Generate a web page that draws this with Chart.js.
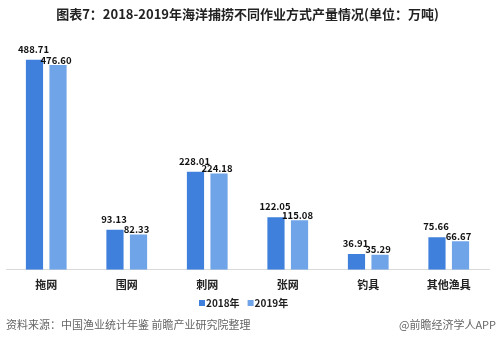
<!DOCTYPE html>
<html>
<head>
<meta charset="utf-8">
<script src="https://cdn.jsdelivr.net/npm/chart.js@4.4.0/dist/chart.umd.min.js"></script>
<style>
    html, body { margin: 0; padding: 0; background: #fff; }
    #wrap { width: 499px; height: 348px; position: relative; }
</style>
</head>
<body>
<div id="wrap"><canvas id="catch-chart" width="499" height="348"></canvas></div>
<script>
// Marine catch output by fishing method (10k tonnes)
const categories = ['拖网', '围网', '刺网', '张网', '钓具', '其他渔具'];
const values2018 = [488.71, 93.13, 228.01, 122.05, 36.91, 75.66];
const values2019 = [476.60, 82.33, 224.18, 115.08, 35.29, 66.67];
const seriesNames = ['2018年', '2019年'];

const FONT = '"Noto Sans CJK SC", "Noto Sans", sans-serif';

// Value labels, legend row and source line
const annotate = {
    id: 'annotate',
    afterDatasetsDraw(chart) {
        const ctx = chart.ctx;
        ctx.save();

        // value above each bar; the lighter series sits a bit lower
        ctx.font = 'bold 9.5px ' + FONT;
        ctx.fillStyle = '#111';
        ctx.textAlign = 'center';
        ctx.textBaseline = 'bottom';
        chart.data.datasets.forEach((ds, i) => {
            const lift = i === 0 ? 6 : 0;
            const shift = i === 0 ? -1 : -2;
            chart.getDatasetMeta(i).data.forEach((bar, j) => {
                ctx.fillText(ds.data[j].toFixed(2), bar.x + shift, bar.y - lift);
            });
        });

        // legend
        ctx.font = 'bold 10px ' + FONT;
        ctx.textAlign = 'left';
        ctx.textBaseline = 'middle';
        let x = 199;
        const y = 303;
        chart.data.datasets.forEach(ds => {
            ctx.fillStyle = ds.backgroundColor;
            ctx.fillRect(x, y - 3, 6, 6);
            ctx.fillStyle = '#222';
            ctx.fillText(ds.label, x + 7, y);
            x += 7 + ctx.measureText(ds.label).width + 8;
        });

        // source
        ctx.font = '11px ' + FONT;
        ctx.fillStyle = '#666';
        ctx.fillText('资料来源：中国渔业统计年鉴 前瞻产业研究院整理', 6, 325);
        ctx.textAlign = 'right';
        ctx.fillText('@前瞻经济学人APP', 496, 325);
        ctx.restore();
    }
};

new Chart(document.getElementById('catch-chart'), {
    type: 'bar',
    data: {
        labels: categories,
        datasets: [
            {
                label: seriesNames[0],
                data: values2018,
                backgroundColor: '#3f80dc',
                categoryPercentage: 0.585,
                barPercentage: 0.73
            },
            {
                label: seriesNames[1],
                data: values2019,
                backgroundColor: '#70a4e8',
                categoryPercentage: 0.585,
                barPercentage: 0.73
            }
        ]
    },
    options: {
        responsive: false,
        animation: false,
        layout: {
            padding: { left: 6, right: 10, top: 0, bottom: 49 }
        },
        plugins: {
            title: {
                display: true,
                text: '图表7：2018-2019年海洋捕捞不同作业方式产量情况(单位：万吨)',
                font: { family: FONT, size: 13, weight: 'bold' },
                color: '#222',
                padding: { top: 6, bottom: 14 }
            },
            legend: { display: false },
            tooltip: { enabled: false }
        },
        scales: {
            x: {
                grid: { display: false, drawTicks: false },
                border: { color: '#d9d9d9', width: 1 },
                ticks: {
                    color: '#222',
                    padding: 8,
                    font: { family: FONT, size: 11, weight: 'bold' }
                }
            },
            y: {
                display: false,
                min: 0,
                max: 545
            }
        }
    },
    plugins: [annotate]
});
</script>
</body>
</html>
